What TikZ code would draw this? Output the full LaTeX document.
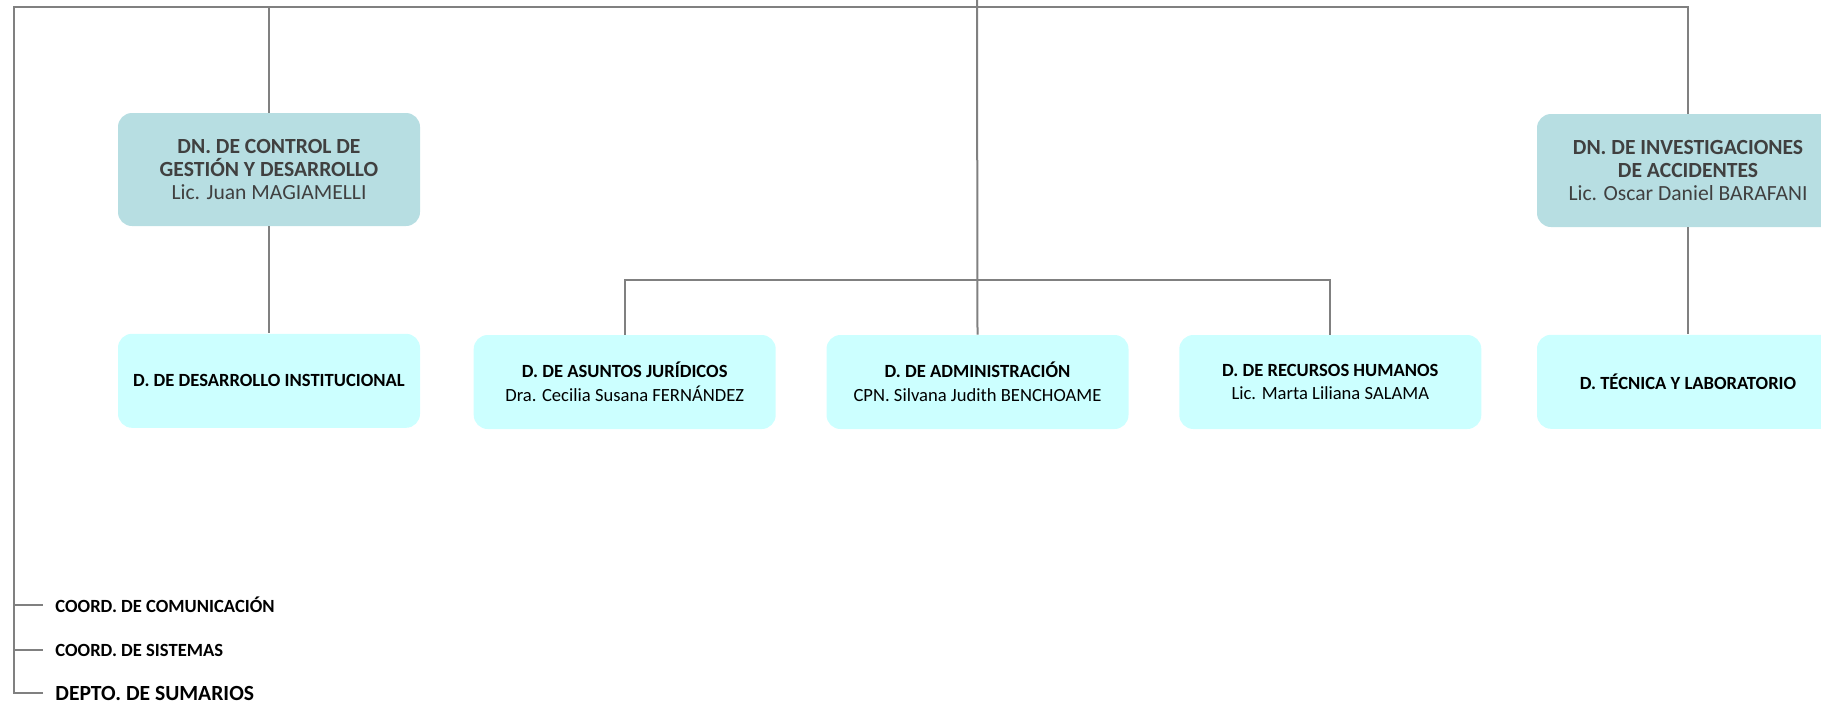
\documentclass[tikz,border=0pt]{standalone}
\usepackage{fontspec}
\setmainfont{Carlito}
\usepackage{xcolor}
\usetikzlibrary{positioning}
\definecolor{dnfill}{RGB}{183,222,226}
\definecolor{dfill}{RGB}{204,255,255}
\definecolor{linegray}{RGB}{128,128,128}
\definecolor{textgray}{RGB}{64,64,64}

\begin{document}
\begin{tikzpicture}[
  x=0.5pt, y=-0.5pt,
  node distance=53.5pt and 25pt,
  dn/.style={fill=dnfill, rounded corners=7pt, align=center, minimum width=151pt, minimum height=56.5pt, font=\fontsize{10.8}{11.3}\selectfont, text=textgray, inner sep=0pt},
  dbox/.style={fill=dfill, rounded corners=7pt, align=center, minimum width=151pt, minimum height=47pt, font=\fontsize{9.3}{11.8}\selectfont, inner sep=0pt},
  coord/.style={anchor=west, font=\bfseries\fontsize{9.3}{11}\selectfont, inner xsep=6pt, inner ysep=0pt},
  conn/.style={draw=linegray, line width=1pt}
]
\useasboundingbox (0,0) rectangle (1821,707);
\coordinate (root) at (977,0);
\coordinate (topbus) at (14,7);
\coordinate (midbus) at (977,280);

\node[dn] (gestion) at (269,169.5) {\textbf{DN. DE CONTROL DE}\\ \textbf{GESTIÓN Y DESARROLLO}\\ Lic. Juan MAGIAMELLI};
\node[dbox, below=of gestion] (desarrollo) {\textbf{D. DE DESARROLLO INSTITUCIONAL}};
\node[dbox] (admin) at (977.5,382) {\textbf{D. DE ADMINISTRACIÓN}\\ CPN. Silvana Judith BENCHOAME};
\node[dbox, left=of admin] (juridicos) {\textbf{D. DE ASUNTOS JURÍDICOS}\\ Dra. Cecilia Susana FERNÁNDEZ};
\node[dbox, right=of admin] (rrhh) {\textbf{D. DE RECURSOS HUMANOS}\\ Lic. Marta Liliana SALAMA};
\node[dn] (investig) at (1688,170.5) {\textbf{DN. DE INVESTIGACIONES}\\ \textbf{DE ACCIDENTES}\\ Lic. Oscar Daniel BARAFANI};
\node[dbox, below=of investig] (tecnica) {\textbf{D. TÉCNICA Y LABORATORIO}};

\node[coord] (comunic) at (43,605) {COORD. DE COMUNICACIÓN};
\node[coord] (sistemas) at (43,650) {COORD. DE SISTEMAS};
\node[coord, font=\bfseries\fontsize{10.8}{12}\selectfont] (sumarios) at (43,693) {DEPTO. DE SUMARIOS};

\draw[conn] (root) -- (admin.north);
\draw[conn] (sumarios.west) -| (topbus) -| (investig.north);
\draw[conn] (gestion.north |- topbus) -- (gestion.north);
\draw[conn] (gestion.south) -- (desarrollo.north);
\draw[conn] (investig.south) -- (tecnica.north);
\draw[conn] (juridicos.north) |- (midbus) -| (rrhh.north);
\draw[conn] (topbus |- comunic.west) -- (comunic.west);
\draw[conn] (topbus |- sistemas.west) -- (sistemas.west);
\end{tikzpicture}
\end{document}
